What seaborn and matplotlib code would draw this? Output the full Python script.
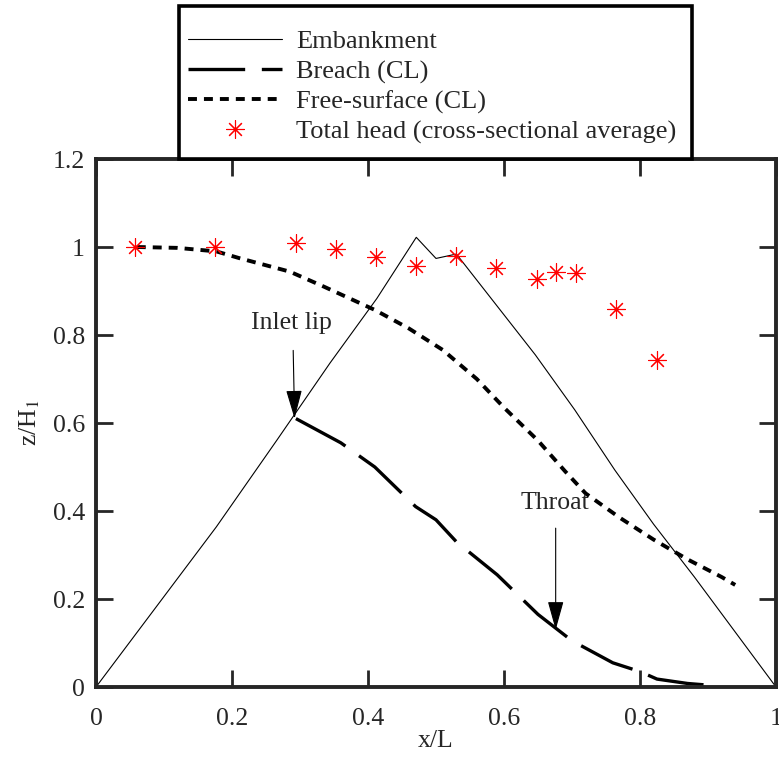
import matplotlib
matplotlib.use("Agg")
import matplotlib.pyplot as plt
from matplotlib.patches import Rectangle
import seaborn as sns
import pandas as pd
import numpy as np

# Datos
emb_x = [0.0, 0.177, 0.266, 0.344, 0.413, 0.471, 0.500, 0.530, 0.646, 0.704, 0.763, 0.82, 0.88, 1.0]
emb_y = [0.0, 0.364, 0.561, 0.736, 0.883, 1.022, 0.974, 0.984, 0.755, 0.630, 0.493, 0.37, 0.25, 0.0]

breach_x = [0.294, 0.36, 0.41, 0.47, 0.50, 0.53, 0.59, 0.65, 0.70, 0.76, 0.80, 0.825, 0.87, 0.91]
breach_y = [0.61, 0.555, 0.50, 0.41, 0.38, 0.33, 0.255, 0.165, 0.105, 0.055, 0.035, 0.018, 0.008, 0.003]

fs_x = [0.06, 0.12, 0.177, 0.21, 0.285, 0.335, 0.41, 0.46, 0.51, 0.56, 0.60, 0.65, 0.69, 0.72, 0.77, 0.82, 0.87, 0.92, 0.94]
fs_y = [1.0, 0.998, 0.99, 0.975, 0.944, 0.91, 0.857, 0.815, 0.766, 0.70, 0.635, 0.56, 0.49, 0.44, 0.385, 0.335, 0.29, 0.25, 0.232]

head_x = [0.058, 0.175, 0.294, 0.353, 0.412, 0.471, 0.529, 0.588, 0.648, 0.677, 0.706, 0.765, 0.825]
head_y = [1.0, 1.0, 1.01, 0.995, 0.978, 0.957, 0.98, 0.952, 0.927, 0.943, 0.94, 0.858, 0.743]

x_ticks = [0, 0.2, 0.4, 0.6, 0.8, 1.0]
x_labels = ["0", "0.2", "0.4", "0.6", "0.8", "1"]
y_ticks = [0, 0.2, 0.4, 0.6, 0.8, 1.0, 1.2]
y_labels = ["0", "0.2", "0.4", "0.6", "0.8", "1", "1.2"]

sns.set_style("ticks")
plt.rcParams['font.family'] = ['Liberation Serif', 'DejaVu Serif']
plt.rcParams['mathtext.fontset'] = 'stix'
plt.rcParams['font.size'] = 18

W, H = 779, 765
fig = plt.figure(figsize=(W / 100, H / 100), dpi=100)
ax = fig.add_axes([96 / W, 1 - 687 / H, 680 / W, 528 / H])

df_emb = pd.DataFrame({"x": emb_x, "y": emb_y})
df_br = pd.DataFrame({"x": breach_x, "y": breach_y})
df_fs = pd.DataFrame({"x": fs_x, "y": fs_y})

sns.lineplot(data=df_emb, x="x", y="y", ax=ax, sort=False, estimator=None,
             color="black", lw=0.8, label="Embankment")
sns.lineplot(data=df_br, x="x", y="y", ax=ax, sort=False, estimator=None,
             color="black", lw=2.4, linestyle=(0, (17, 5)), label="Breach (CL)")
sns.lineplot(data=df_fs, x="x", y="y", ax=ax, sort=False, estimator=None,
             color="black", lw=2.8, linestyle=(0, (2.3, 1.8)), label="Free-surface (CL)")
ax.plot(head_x, head_y, linestyle="none", marker=(8, 2, 0), markersize=13,
        markeredgewidth=0.8, color="red", label="Total head (cross-sectional average)")

# Anotaciones
ax.text(0.288, 0.827, "Inlet lip", ha="center", va="center", fontsize=18.5)
ax.annotate("", xy=(0.292, 0.61), xytext=(0.290, 0.765),
            arrowprops=dict(arrowstyle="-|>,head_length=0.9,head_width=0.25",
                            color="black", lw=0.8, mutation_scale=20,
                            shrinkA=0, shrinkB=0))
ax.text(0.675, 0.418, "Throat", ha="center", va="center", fontsize=18.5)
ax.annotate("", xy=(0.676, 0.13), xytext=(0.676, 0.361),
            arrowprops=dict(arrowstyle="-|>,head_length=0.9,head_width=0.25",
                            color="black", lw=0.8, mutation_scale=20,
                            shrinkA=0, shrinkB=0))

ax.set_xlim(0, 1)
ax.set_ylim(0, 1.2)
ax.set_xticks(x_ticks)
ax.set_xticklabels(x_labels)
ax.set_yticks(y_ticks)
ax.set_yticklabels(y_labels)
ax.set_xlabel("x/L", fontsize=18.5, labelpad=0)
ax.set_ylabel("z/H$_1$", fontsize=18.5, labelpad=8)
ax.tick_params(direction="in", length=12, width=2, top=True, right=True,
               labelsize=18.5)
ax.tick_params(axis="x", pad=15)
ax.tick_params(axis="y", pad=8)
for sp in ax.spines.values():
    sp.set_linewidth(2.8)
    sp.set_visible(True)

# Leyenda con caja propia encima del eje
handles, labels = ax.get_legend_handles_labels()
if ax.get_legend() is not None:
    ax.get_legend().remove()
box = Rectangle((179 / W, 1 - 159 / H), (692 - 179) / W, (159 - 6) / H,
                transform=fig.transFigure, facecolor="white", edgecolor="black",
                lw=2.6, zorder=2)
fig.add_artist(box)
fig.legend(handles, labels, loc="upper left", bbox_to_anchor=(188 / W, 1 - 30 / H),
           fontsize=19, handlelength=3.56, handletextpad=0.55, labelspacing=0.24,
           borderpad=0, borderaxespad=0, frameon=False, numpoints=1)

plt.savefig("out.png", dpi=100)
